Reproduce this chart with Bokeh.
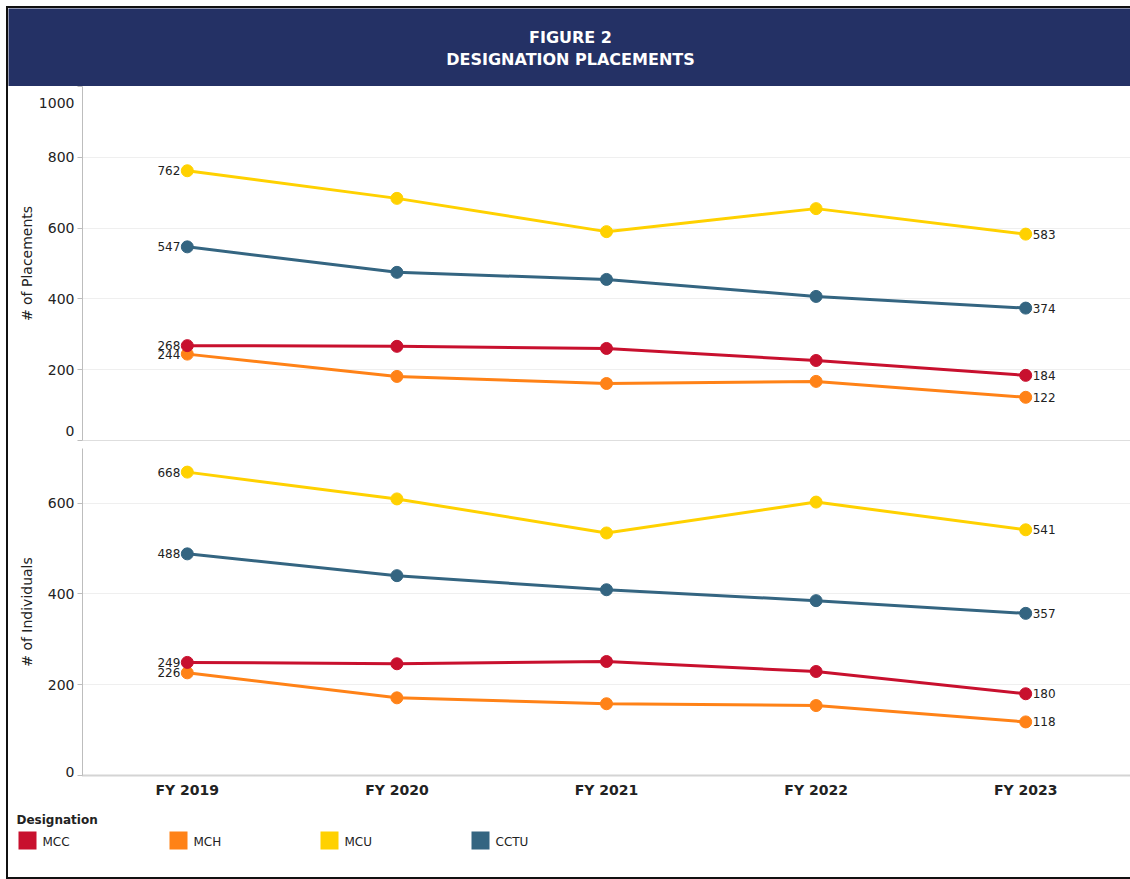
from bokeh.plotting import figure
from bokeh.models import Range1d, FactorRange, Span, FixedTicker, ColumnDataSource, Label
from bokeh.layouts import column
from bokeh.embed import file_html
from bokeh.resources import INLINE
from bokeh.core.properties import value

# ---------------- data ----------------
years = ["FY 2019", "FY 2020", "FY 2021", "FY 2022", "FY 2023"]
designations = ["MCC", "MCH", "MCU", "CCTU"]
colors = ["#C8102E", "#FF8217", "#FFD100", "#346581"]

placements_mcc = [268, 266, 260, 226, 184]
placements_mch = [244, 181, 161, 167, 122]
placements_mcu = [762, 684, 590, 655, 583]
placements_cctu = [547, 475, 455, 407, 374]

individuals_mcc = [249, 246, 251, 229, 180]
individuals_mch = [226, 171, 158, 154, 118]
individuals_mcu = [668, 609, 534, 602, 541]
individuals_cctu = [488, 440, 409, 385, 357]

top_ticks = [0, 200, 400, 600, 800, 1000]
bottom_ticks = [0, 200, 400, 600]

# ---------------- style ----------------
W = 1122
FONT = "DejaVu Sans"
NAVY = "#243165"
AXIS_GRAY = "#BDBDBD"
GRID = "#EFEFEF"


def make_header():
    h = figure(width=W, height=78, x_range=Range1d(0, W), y_range=Range1d(0, 1),
               output_backend="svg", toolbar_location=None, frame_align=False,
               min_border=0, background_fill_color=NAVY, border_fill_color=NAVY)
    h.axis.visible = False
    h.grid.visible = False
    h.outline_line_color = None
    h.add_layout(Label(x=562, y=0.628, text="FIGURE 2", text_align="center",
                       text_baseline="middle", text_color="white",
                       text_font=FONT, text_font_style="bold", text_font_size="16px"))
    h.add_layout(Label(x=562, y=0.346, text="DESIGNATION PLACEMENTS", text_align="center",
                       text_baseline="middle", text_color="white",
                       text_font=FONT, text_font_style="bold", text_font_size="16px"))
    return h


def make_panel(series, yend, ticks, ytitle, height, show_x, title_standoff, mb_top):
    p = figure(width=W, height=height, x_range=FactorRange(*years),
               y_range=Range1d(0, yend), output_backend="svg", toolbar_location=None,
               min_border_left=74, min_border_right=0, min_border_top=mb_top,
               min_border_bottom=26 if show_x else 6)
    p.outline_line_color = None
    p.xgrid.visible = False
    p.ygrid.grid_line_color = GRID
    p.ygrid.ticker = FixedTicker(ticks=ticks)

    yax = p.yaxis[0]
    yax.ticker = FixedTicker(ticks=ticks)
    overrides = {t: str(t) for t in ticks}
    overrides[0] = "0\n"
    if ticks[-1] == yend:
        overrides[yend] = "\n" + str(yend)
    yax.major_label_overrides = overrides
    yax.major_label_text_line_height = 0.5
    yax.axis_line_color = AXIS_GRAY
    yax.major_tick_line_color = AXIS_GRAY
    yax.major_tick_out = 5
    yax.major_tick_in = 0
    yax.minor_tick_line_color = None
    yax.major_label_standoff = 3
    yax.major_label_text_font = FONT
    yax.major_label_text_font_size = "14px"
    yax.major_label_text_color = "#222222"
    yax.axis_label = ytitle
    yax.axis_label_text_font = FONT
    yax.axis_label_text_font_style = "normal"
    yax.axis_label_text_font_size = "14px"
    yax.axis_label_text_color = "#222222"
    yax.axis_label_standoff = title_standoff

    xax = p.xaxis[0]
    if show_x:
        xax.axis_line_color = "#A8A8A8"
        xax.axis_line_dash = "1 1"
        xax.axis_line_width = 2
        xax.major_tick_line_color = None
        xax.major_tick_out = 0
        xax.major_tick_in = 0
        xax.minor_tick_line_color = None
        xax.major_label_standoff = 6
        xax.major_label_text_font = FONT
        xax.major_label_text_font_style = "bold"
        xax.major_label_text_font_size = "14px"
        xax.major_label_text_color = "#222222"
    else:
        xax.visible = False
        p.add_layout(Span(location=0, dimension="width", line_color=AXIS_GRAY, line_width=1))

    for vals, col in series:
        src = ColumnDataSource(dict(x=years, y=vals))
        p.line("x", "y", source=src, line_color=col, line_width=3)
        p.scatter("x", "y", source=src, fill_color=col, line_color=col, size=12)
        first = ColumnDataSource(dict(x=years[:1], y=vals[:1], t=[str(vals[0])]))
        last = ColumnDataSource(dict(x=years[-1:], y=vals[-1:], t=[str(vals[-1])]))
        p.text("x", "y", text="t", source=first, text_align="right", text_baseline="middle",
               x_offset=-7, text_font=value(FONT), text_font_size="12px", text_color="#222222")
        p.text("x", "y", text="t", source=last, text_align="left", text_baseline="middle",
               x_offset=7, text_font=value(FONT), text_font_size="12px", text_color="#222222")
    return p


def make_legend():
    H = 76
    lg = figure(width=W, height=H, x_range=Range1d(0, W), y_range=Range1d(H, 0),
                output_backend="svg", toolbar_location=None, min_border=0, frame_align=False)
    lg.axis.visible = False
    lg.grid.visible = False
    lg.outline_line_color = None
    lg.add_layout(Label(x=8, y=18, text="Designation", text_align="left",
                        text_baseline="middle", text_font=FONT, text_font_style="bold",
                        text_font_size="12px", text_color="#222222"))
    xs = [19 + 151 * i for i in range(len(designations))]
    lg.rect(x=xs, y=[39] * len(xs), width=18, height=18, fill_color=colors, line_color=None)
    lg.text(x=[x + 15 for x in xs], y=[40] * len(xs), text=designations,
            text_align="left", text_baseline="middle", text_font=value(FONT),
            text_font_size="12px", text_color="#222222")
    return lg


top_series = [(placements_mch, colors[1]), (placements_mcc, colors[0]),
              (placements_cctu, colors[3]), (placements_mcu, colors[2])]
bottom_series = [(individuals_mch, colors[1]), (individuals_mcc, colors[0]),
                 (individuals_cctu, colors[3]), (individuals_mcu, colors[2])]

header = make_header()
top = make_panel(top_series, 1000, top_ticks, "# of Placements", 360, False, 1, 0)
bottom = make_panel(bottom_series, 720, bottom_ticks, "# of Individuals", 355, True, 10, 2)
legend = make_legend()

layout = column(header, top, bottom, legend, spacing=0,
                styles={"border": "2px solid #111111", "margin": "6px 0 0 6px"})

open("out.html", "w").write(file_html(layout, INLINE))
